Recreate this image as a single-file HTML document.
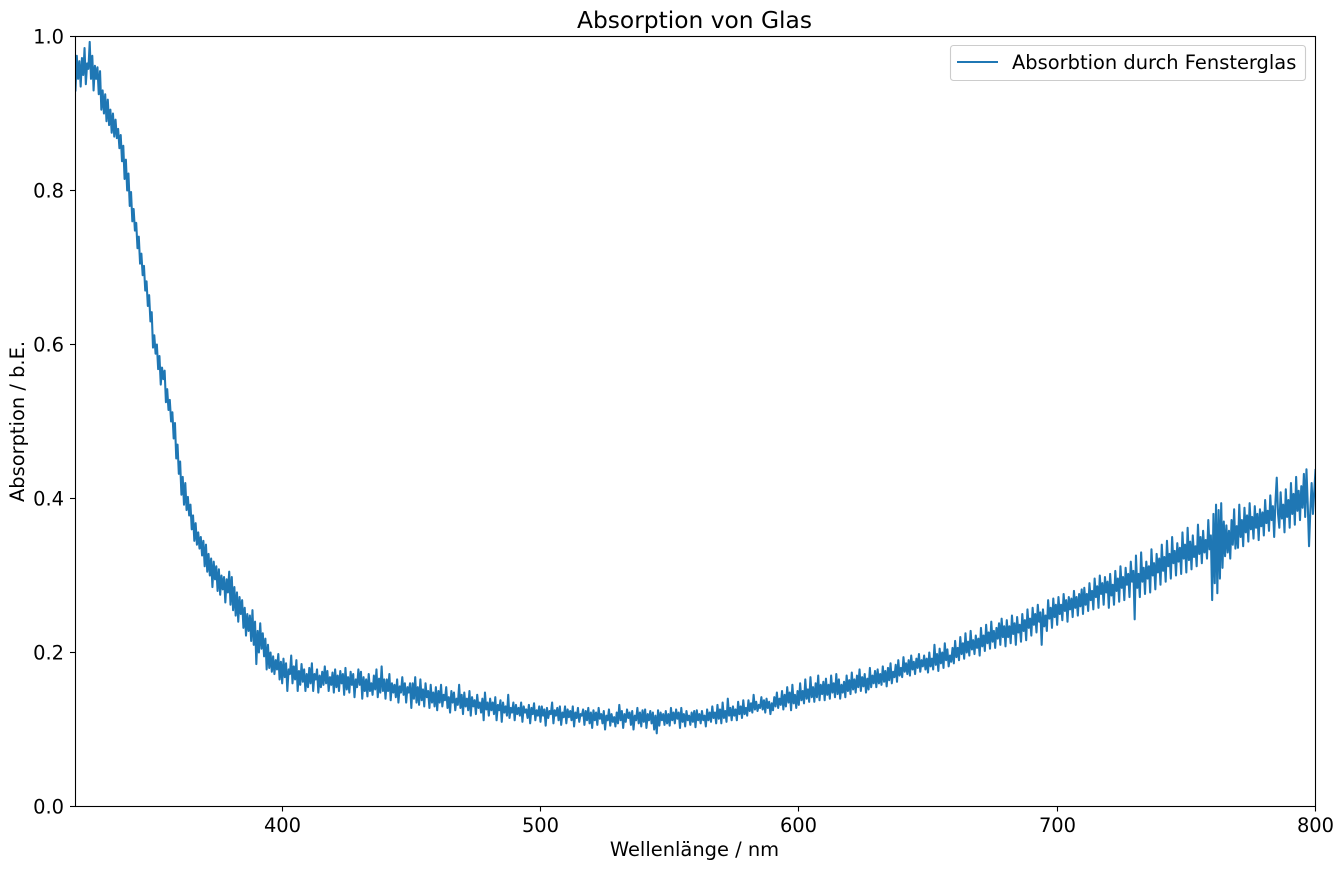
<!DOCTYPE html>
<html>
<head>
<meta charset="utf-8">
<title>Absorption von Glas</title>
<style>
html,body{margin:0;padding:0;background:#fff;}
svg{display:block;}
text{font-family:"DejaVu Sans","Liberation Sans",sans-serif;fill:#000;}
</style>
</head>
<body>
<svg id="chart" xmlns="http://www.w3.org/2000/svg" width="1343" height="869" viewBox="0 0 1343 869">
  <defs><clipPath id="plot-clip"><rect x="75" y="36" width="1241" height="771"></rect></clipPath></defs>
  <rect x="0" y="0" width="1343" height="869" fill="#fff"></rect>
  <text x="694.5" y="28" font-size="23.33" text-anchor="middle">Absorption von Glas</text>
  <text x="694.5" y="856" font-size="19.44" text-anchor="middle">Wellenlänge / nm</text>
  <text transform="translate(24 421.5) rotate(-90)" font-size="19.44" text-anchor="middle">Absorption / b.E.</text>
  <g id="ticks"></g>
  <path id="series" clip-path="url(#plot-clip)" fill="none" stroke="#1f77b4" stroke-width="2.08" stroke-linejoin="round" stroke-linecap="square"></path>
  <rect x="75.5" y="36.5" width="1240" height="770" fill="none" stroke="#000" stroke-width="1.1"></rect>
  <g>
    <rect x="950.5" y="45.5" width="355" height="35" rx="3" fill="#fff" fill-opacity="0.8" stroke="#ccc" stroke-width="1.1"></rect>
    <line x1="957" y1="62" x2="998" y2="62" stroke="#1f77b4" stroke-width="2.08"></line>
    <text x="1012" y="69" font-size="19.44">Absorbtion durch Fensterglas</text>
  </g>
</svg>
<script>
const wavelengthStart = 320;
const wavelengthStep = 0.5;
const xTickValues = [400, 500, 600, 700, 800];
const yTickValues = [0, 0.2, 0.4, 0.6, 0.8, 1.0];
const xDomain = [320, 800];
const yDomain = [0, 1];
const absorptionMilli = [
930,975,945,968,935,972,950,985,938,965,958,993,945,975,930,962,945,960,925,955,
905,930,900,925,890,918,885,905,875,900,870,892,868,880,855,872,838,858,815,840,
800,822,780,798,760,776,748,758,725,740,705,718,690,702,670,682,650,664,630,642,
596,612,588,600,568,585,548,570,555,566,525,542,515,528,500,512,478,498,452,470,
432,448,405,428,392,420,385,402,378,392,360,378,345,368,340,356,335,350,326,345,
312,340,305,328,300,322,285,318,295,312,280,308,275,300,282,298,265,295,278,305,
262,298,255,285,248,278,240,272,250,268,232,258,222,250,228,248,215,255,210,240,
185,228,200,238,205,225,195,218,178,210,180,200,175,195,172,190,178,198,165,188,
160,192,168,186,150,178,172,196,160,182,165,190,150,176,158,185,162,178,150,172,
155,180,160,186,150,172,165,178,148,170,155,175,158,182,160,176,150,168,158,174,
148,178,155,170,150,176,160,172,145,180,152,168,148,175,158,172,142,165,155,178,
158,175,140,168,150,165,143,172,150,160,145,170,152,178,142,166,148,182,150,165,
140,165,150,172,138,160,148,158,142,165,135,156,148,168,145,160,135,155,148,160,
128,160,140,168,135,155,132,165,138,152,130,160,142,150,128,158,135,148,130,155,
125,150,135,158,130,145,138,155,128,142,122,150,135,148,125,140,132,158,128,145,
120,148,130,140,125,150,118,142,130,138,120,145,128,135,122,140,112,148,126,135,
118,140,125,135,120,142,112,132,125,138,110,135,122,130,118,145,115,128,122,135,
112,132,120,128,118,135,110,130,122,126,115,132,108,128,120,134,112,125,118,130,
110,130,118,126,105,128,115,124,120,135,108,125,118,128,112,130,106,122,116,130,
108,126,116,124,112,130,104,122,115,128,110,120,118,126,106,124,112,128,108,122,
102,125,112,122,106,128,114,120,108,124,100,118,112,126,105,120,110,116,104,122,
108,132,112,124,102,120,110,126,115,122,106,124,100,118,112,128,108,122,104,125,
110,126,102,120,112,124,108,122,100,118,95,125,105,122,112,120,106,124,108,120,
105,128,112,122,108,126,114,122,102,128,110,120,104,124,112,118,106,122,110,124,
103,125,112,120,108,124,112,118,104,126,112,122,110,130,115,122,108,132,114,126,
108,135,115,124,110,140,118,128,112,130,118,126,112,136,120,130,115,138,120,128,
118,138,124,134,122,145,126,136,124,132,128,142,126,138,122,140,128,136,120,134,
125,142,130,148,128,140,132,150,126,145,130,155,135,148,125,158,134,145,128,150,
132,160,138,150,134,165,140,152,136,168,142,155,136,160,142,170,138,158,146,162,
138,166,145,158,140,170,148,160,142,172,146,165,140,158,148,162,142,170,150,164,
146,174,152,165,148,170,155,178,150,168,156,172,148,166,152,180,155,170,160,176,
155,178,160,172,158,182,162,176,156,180,164,186,160,175,168,184,162,190,170,180,
168,194,175,186,172,190,170,196,178,188,172,192,180,198,175,190,182,196,178,192,
174,200,182,192,178,210,184,198,176,205,186,200,180,212,190,204,182,196,188,206,
186,215,194,206,190,220,198,212,192,225,200,214,196,228,204,216,198,222,206,218,
196,232,208,222,202,236,212,226,205,240,214,228,206,232,218,238,210,244,220,234,
208,242,220,234,212,248,224,238,210,246,226,236,214,250,228,242,216,256,232,244,
222,258,236,250,226,262,240,252,210,256,234,248,228,268,244,258,232,270,246,262,
236,272,250,262,242,276,254,268,240,272,256,270,246,280,258,272,248,276,260,282,
250,284,262,276,254,290,268,280,256,296,272,286,258,300,276,290,262,298,278,292,
258,302,274,288,262,306,280,296,266,312,284,298,268,310,288,302,272,318,292,306,
243,326,284,302,272,330,292,310,276,318,296,312,278,334,300,316,282,328,304,322,
288,340,306,324,292,345,312,328,296,350,316,332,300,342,318,336,302,356,322,340,
304,362,320,344,308,352,324,338,312,366,328,350,316,358,330,346,322,372,334,352,
268,380,290,392,277,385,296,394,310,370,325,365,330,358,322,372,340,386,335,364,
336,392,350,372,338,388,356,378,344,394,360,376,348,390,362,380,346,386,364,382,
352,398,368,384,358,404,372,390,350,396,427,380,362,408,374,392,356,412,376,398,
362,420,380,406,366,428,384,410,372,416,388,432,376,438,392,338,384,420,380,408,
437
];

const SVG_NS = 'http://www.w3.org/2000/svg';
const xScale = function (v) { return 75.5 + (v - xDomain[0]) / (xDomain[1] - xDomain[0]) * 1240; };
const yScale = function (v) { return 806.5 - (v - yDomain[0]) / (yDomain[1] - yDomain[0]) * 770; };

const linePoints = absorptionMilli.map(function (m, i) {
  const wavelength = wavelengthStart + i * wavelengthStep;
  return xScale(wavelength).toFixed(2) + ' ' + yScale(m / 1000).toFixed(2);
});
document.getElementById('series').setAttribute('d', 'M' + linePoints.join('L'));

const tickGroup = document.getElementById('ticks');
function addTick(x1, y1, x2, y2) {
  const tick = document.createElementNS(SVG_NS, 'line');
  tick.setAttribute('x1', x1);
  tick.setAttribute('y1', y1);
  tick.setAttribute('x2', x2);
  tick.setAttribute('y2', y2);
  tick.setAttribute('stroke', '#000');
  tick.setAttribute('stroke-width', '1.1');
  
  
  tickGroup.appendChild(tick);
}
function addLabel(x, y, anchor, content) {
  const label = document.createElementNS(SVG_NS, 'text');
  label.setAttribute('x', x);
  label.setAttribute('y', y);
  label.setAttribute('text-anchor', anchor);
  label.setAttribute('font-size', '19.44');
  label.textContent = content;
  
  
  tickGroup.appendChild(label);
}
xTickValues.forEach(function (v) {
  const x = Math.round(xScale(v) - 0.5) + 0.5;
  addTick(x, 806.5, x, 811.5);
  addLabel(x, 832, 'middle', String(v));
});
yTickValues.forEach(function (v) {
  const y = Math.round(yScale(v) - 0.5) + 0.5;
  addTick(70, y, 75.5, y);
  addLabel(64, y + 7, 'end', v.toFixed(1));
});
</script>
</body>
</html>
